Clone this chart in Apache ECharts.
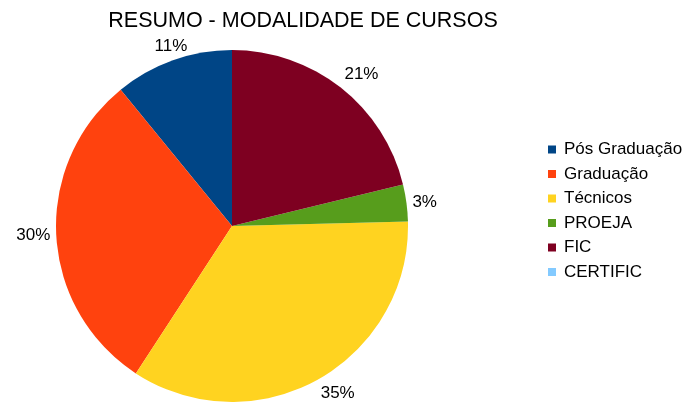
<!DOCTYPE html>
<html>
<head>
<meta charset="utf-8">
<script src="https://cdn.jsdelivr.net/npm/echarts@6/dist/echarts.min.js"></script>
<style>
  html, body { margin: 0; padding: 0; background: #fff; }
  #chart { width: 683px; height: 404px; }
</style>
</head>
<body>
<div id="chart"></div>
<script>
// 各类课程占比（按图中扇区角度估读）
const categories = ["Pós Graduação", "Graduação", "Técnicos", "PROEJA", "FIC", "CERTIFIC"];
const values = [10.9, 29.9, 34.6, 3.4, 21.2, 0];
const colors = ["#004586", "#ff420e", "#ffd320", "#579d1c", "#7e0021", "#83caff"];
const titleText = "RESUMO - MODALIDADE DE CURSOS";

const CENTER = [232, 226];
const RADIUS = 176;
const total = values.reduce((a, b) => a + b, 0);

// 仿 LibreOffice 的外侧标签：按扇区中线方向决定对齐方式
function placeLabel(params) {
  const i = params.dataIndex;
  let before = 0;
  for (let k = 0; k < i; k++) before += values[k];
  const mid = (before + values[i] / 2) / total * Math.PI * 2; // 自顶部逆时针
  const ux = -Math.sin(mid), uy = -Math.cos(mid);
  const r = RADIUS + 6;
  return {
    x: CENTER[0] + ux * r,
    y: CENTER[1] + uy * r,
    align: ux > 0.35 ? "left" : ux < -0.35 ? "right" : "center",
    verticalAlign: uy > 0.35 ? "top" : uy < -0.35 ? "bottom" : "middle"
  };
}

const chart = echarts.init(document.getElementById("chart"), null, { renderer: "canvas" });

chart.setOption({
  animation: false,
  color: colors,
  textStyle: { fontFamily: "Liberation Sans, Arial, sans-serif" },
  title: {
    text: titleText,
    left: 303,
    textAlign: "center",
    top: 10,
    padding: 0,
    textStyle: { fontSize: 21.5, fontWeight: "normal", color: "#000" }
  },
  legend: {
    orient: "vertical",
    left: 548,
    top: 141,
    padding: 0,
    itemWidth: 8,
    itemHeight: 8,
    itemGap: 7.5,
    icon: "rect",
    textStyle: { fontSize: 17, color: "#000", lineHeight: 17, padding: [0, 0, 0, 3] },
    data: categories
  },
  series: [{
    type: "pie",
    center: CENTER,
    radius: RADIUS,
    startAngle: 90,
    clockwise: false,
    silent: true,
    avoidLabelOverlap: false,
    label: {
      show: true,
      position: "outside",
      color: "#000",
      fontSize: 17,
      overflow: "none",
      formatter: (p) => p.value > 0 ? Math.round(p.percent) + "%" : ""
    },
    labelLine: { show: false, length: 4, length2: 0 },
    labelLayout: placeLabel,
    data: categories.map((name, i) => ({ name, value: values[i] }))
  }]
});
</script>
</body>
</html>
